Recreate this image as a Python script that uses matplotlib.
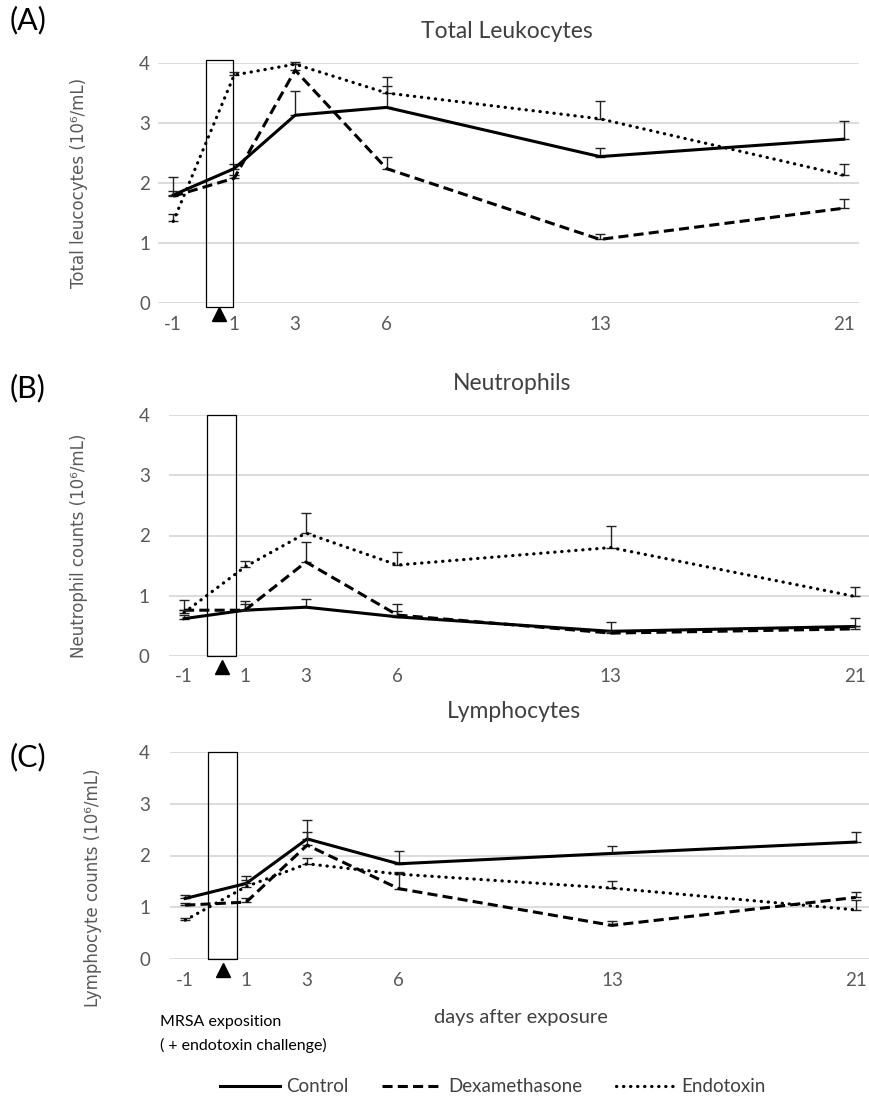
import numpy as np
import matplotlib
matplotlib.use("Agg")
import matplotlib.pyplot as plt
from matplotlib.patches import Rectangle
from matplotlib.lines import Line2D
import matplotlib.transforms as mtransforms

plt.rcParams['font.family'] = ['Lato', 'DejaVu Sans']

# days after exposure
days = [-1, 1, 3, 6, 13, 21]
day_labels = ['-1', '1', '3', '6', '13', '21']

# Total leukocytes (10^6/mL): mean and upper error
leu_ctrl = [1.80, 2.24, 3.13, 3.26, 2.44, 2.73]
leu_ctrl_err = [0.30, 0.08, 0.41, 0.36, 0.15, 0.30]
leu_dexa = [1.78, 2.08, 3.88, 2.24, 1.06, 1.58]
leu_dexa_err = [0.08, 0.05, 0.10, 0.19, 0.09, 0.15]
leu_endo = [1.36, 3.80, 3.98, 3.50, 3.07, 2.13]
leu_endo_err = [0.12, 0.05, 0.03, 0.26, 0.30, 0.19]

# Neutrophils
neu_ctrl = [0.62, 0.76, 0.81, 0.65, 0.41, 0.49]
neu_ctrl_err = [0.06, 0.10, 0.14, 0.10, 0.16, 0.14]
neu_dexa = [0.76, 0.76, 1.56, 0.68, 0.38, 0.45]
neu_dexa_err = [0.17, 0.16, 0.34, 0.19, 0.03, 0.05]
neu_endo = [0.72, 1.48, 2.04, 1.51, 1.80, 0.99]
neu_endo_err = [0.05, 0.10, 0.34, 0.22, 0.35, 0.15]

# Lymphocytes
lym_ctrl = [1.17, 1.46, 2.32, 1.84, 2.04, 2.26]
lym_ctrl_err = [0.06, 0.14, 0.37, 0.25, 0.15, 0.20]
lym_dexa = [1.04, 1.10, 2.20, 1.36, 0.65, 1.19]
lym_dexa_err = [0.05, 0.07, 0.25, 0.30, 0.08, 0.11]
lym_endo = [0.75, 1.40, 1.84, 1.64, 1.37, 0.95]
lym_endo_err = [0.05, 0.12, 0.11, 0.04, 0.13, 0.19]

groups = ['Control', 'Dexamethasone', 'Endotoxin']

W, H = 869, 1097
fig = plt.figure(figsize=(W / 100, H / 100), dpi=100)

GRAY = '#595959'
styles = {
    'Control': dict(linestyle='-', linewidth=2.2),
    'Dexamethasone': dict(linestyle=(0, (3.3, 1.7)), linewidth=2.2),
    'Endotoxin': dict(linestyle=(0, (0.1, 2.1)), linewidth=2.3, dash_capstyle='round'),
}


def px_axes(left, zero_y, four_y, right_w=701):
    # axes rect from pixel positions of the plot area
    return [left / W, 1 - zero_y / H, right_w / W, (zero_y - four_y) / H]


panels = [
    dict(rect=px_axes(158, 303, 63), title='Total Leukocytes', tx=507, ty=32,
         label='(A)', ly=20, ylabel='Total leucocytes (10⁶/mL)', ylx=88, yly=183, ypad=5.8,
         data=[(leu_ctrl, leu_ctrl_err), (leu_dexa, leu_dexa_err), (leu_endo, leu_endo_err)],
         box=(0.07, 0.96, -0.06, 4.05)),
    dict(rect=px_axes(168.8, 656, 415), title='Neutrophils', tx=512, ty=383,
         label='(B)', ly=388, ylabel='Neutrophil counts (10⁶/mL)', ylx=88, yly=546, ypad=13.7,
         data=[(neu_ctrl, neu_ctrl_err), (neu_dexa, neu_dexa_err), (neu_endo, neu_endo_err)],
         box=(-0.25, 0.71, 0.0, 4.0)),
    dict(rect=px_axes(170, 959, 752), title='Lymphocytes', tx=514, ty=712,
         label='(C)', ly=757, ylabel='Lymphocyte counts (10⁶/mL)', ylx=102, yly=888, ypad=14.4,
         data=[(lym_ctrl, lym_ctrl_err), (lym_dexa, lym_dexa_err), (lym_endo, lym_endo_err)],
         box=(-0.25, 0.71, 0.0, 4.0)),
]

for p in panels:
    ax = fig.add_axes(p['rect'])
    ax.set_xlim(-1.5, 21.5)
    ax.set_ylim(0, 4)
    ax.set_yticks([0, 1, 2, 3, 4])
    ax.set_xticks(days)
    ax.set_xticklabels(day_labels)
    ax.tick_params(axis='both', length=0, labelsize=13.5, labelcolor=GRAY)
    ax.tick_params(axis='x', pad=9)
    ax.tick_params(axis='y', pad=p['ypad'])
    ax.grid(axis='y', color='#d9d9d9', linewidth=1.3)
    ax.set_axisbelow(True)
    for s in ax.spines.values():
        s.set_visible(False)

    for g, (vals, err) in zip(groups, p['data']):
        ax.errorbar(days, vals, yerr=[np.zeros(len(err)), err], fmt='none',
                    ecolor='#222222', elinewidth=1.0, capsize=3.5, capthick=1.0,
                    clip_on=False)
        ax.plot(days, vals, color='black', clip_on=False, **styles[g])

    x0, x1, y0, y1 = p['box']
    ax.add_patch(Rectangle((x0, y0), x1 - x0, y1 - y0, fill=False,
                           edgecolor='black', linewidth=0.9, clip_on=False))
    tr = mtransforms.offset_copy(ax.transData, fig=fig, x=0, y=-11, units='dots')
    ax.plot([(x0 + x1) / 2], [0], marker='^', markersize=10, color='black',
            transform=tr, clip_on=False)

    ax.set_ylabel(p['ylabel'], family='DejaVu Sans', fontsize=12, color=GRAY)
    # place y label at its pixel position
    bb = p['rect']
    ax.yaxis.set_label_coords((p['ylx'] / W - bb[0]) / bb[2],
                              ((1 - p['yly'] / H) - bb[1]) / bb[3])

    fig.text(p['tx'] / W, 1 - p['ty'] / H, p['title'], ha='center', va='center',
             fontsize=16.5, color='#404040')
    fig.text(10 / W, 1 - p['ly'] / H, p['label'], ha='left', va='center',
             fontsize=22, color='black')

fig.text(521 / W, 1 - 1017 / H, 'days after exposure', ha='center', va='center',
         fontsize=14.5, color='#404040')
fig.text(160 / W, 1 - 1022 / H, 'MRSA exposition', ha='left', va='center',
         fontsize=11.5, color='black')
fig.text(160 / W, 1 - 1045 / H, '( + endotoxin challenge)', ha='left', va='center',
         fontsize=11.5, color='black')

handles = [Line2D([], [], color='black', **styles[g]) for g in groups]
fig.legend(handles, groups, loc='center', bbox_to_anchor=(493 / W, 1 - 1087 / H),
           ncol=3, frameon=False, fontsize=13.5, handlelength=3.2, handletextpad=0.3,
           columnspacing=1.8, labelcolor='#404040')

fig.savefig('out.png', dpi=100)
